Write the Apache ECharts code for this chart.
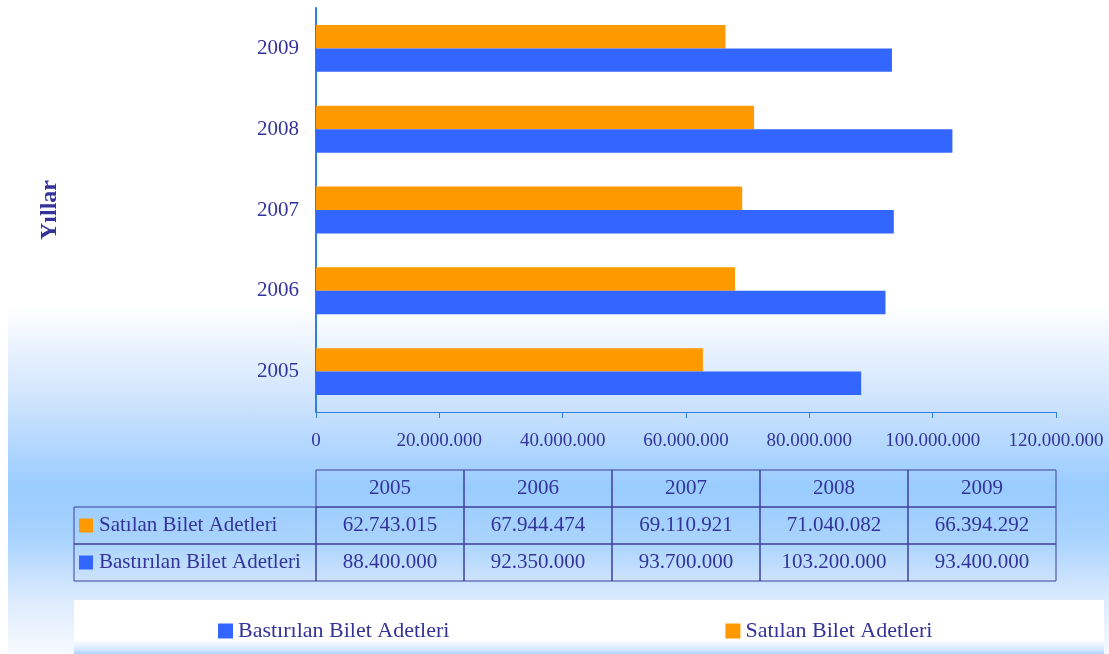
<!DOCTYPE html>
<html>
<head>
<meta charset="utf-8">
<title>Bilet Adetleri</title>
<script src="https://cdn.jsdelivr.net/npm/echarts@6/dist/echarts.min.js"></script>
<style>
  html, body { margin: 0; padding: 0; background: #fff; }
  #wrap { position: relative; width: 1109px; height: 654px; overflow: hidden; }
  #bg {
    position: absolute; left: 8px; top: 0; width: 1101px; height: 654px;
    background: linear-gradient(to bottom, #ffffff 0px, #ffffff 305px, #cfe4fd 400px, #99ccff 487px, #a9d3fd 540px, #dcebfd 600px, #f3f8fe 645px, #f7fafe 654px);
  }
  #legendBox {
    position: absolute; left: 74px; top: 600px; width: 1030px; height: 54px;
    background: linear-gradient(to bottom, #ffffff 0px, #ffffff 40px, #d4e7fd 50px, #a9d3fd 54px);
  }
  #main { position: absolute; left: 0; top: 0; width: 1109px; height: 654px; }
</style>
</head>
<body>
<div id="wrap">
  <div id="bg"></div>
  <div id="legendBox"></div>
  <div id="main"></div>
</div>
<script>
// veriler
var years = ['2005', '2006', '2007', '2008', '2009']
var satilan = [62743015, 67944474, 69110921, 71040082, 66394292]
var basilan = [88400000, 92350000, 93700000, 103200000, 93400000]
var satilanName = 'Satılan Bilet Adetleri'
var basilanName = 'Bastırılan Bilet Adetleri'

var textColor = '#333399'
var lineColor = '#2f7fe0'
var borderColor = '#3f3f9f'
var orange = '#ff9900'
var blue = '#3366ff'
var serif = '"Liberation Serif", "Times New Roman", serif'

function fmt (v) {
  return String(v).replace(/\B(?=(\d{3})+(?!\d))/g, '.')
}

// tablo: grid genisligine gore hucreler
var gridLeft = 316
var gridRight = 53
var gridWidth = 1109 - gridLeft - gridRight
var colW = gridWidth / years.length
var rowTop = [470, 507, 544, 581]

function buildTable () {
  var els = []
  // baslik satiri
  years.forEach(function (y, i) {
    var x = gridLeft + i * colW
    els.push({
      type: 'rect',
      shape: { x: x, y: rowTop[0], width: colW, height: rowTop[1] - rowTop[0] },
      style: { fill: 'transparent', stroke: borderColor, lineWidth: 1 }
    })
    els.push({
      type: 'text',
      x: x + colW / 2,
      y: (rowTop[0] + rowTop[1]) / 2,
      style: { text: y, fill: textColor, font: '21px ' + serif, align: 'center', verticalAlign: 'middle' }
    })
  })
  var rows = [
    { name: satilanName, color: orange, data: satilan },
    { name: basilanName, color: blue, data: basilan }
  ]
  rows.forEach(function (r, k) {
    var top = rowTop[k + 1]
    var h = rowTop[k + 2] - top
    var mid = top + h / 2
    els.push({
      type: 'rect',
      shape: { x: 74, y: top, width: gridLeft - 74, height: h },
      style: { fill: 'transparent', stroke: borderColor, lineWidth: 1 }
    })
    els.push({
      type: 'rect',
      shape: { x: 79, y: mid - 7, width: 14, height: 14 },
      style: { fill: r.color }
    })
    els.push({
      type: 'text',
      x: 99,
      y: mid,
      style: { text: r.name, fill: textColor, font: '21px ' + serif, align: 'left', verticalAlign: 'middle' }
    })
    r.data.forEach(function (v, i) {
      var x = gridLeft + i * colW
      els.push({
        type: 'rect',
        shape: { x: x, y: top, width: colW, height: h },
        style: { fill: 'transparent', stroke: borderColor, lineWidth: 1 }
      })
      els.push({
        type: 'text',
        x: x + colW / 2,
        y: mid,
        style: { text: fmt(v), fill: textColor, font: '21px ' + serif, align: 'center', verticalAlign: 'middle' }
      })
    })
  })
  return els
}

var myChart = echarts.init(document.getElementById('main'))
myChart.setOption({
  backgroundColor: 'transparent',
  animation: false,
  textStyle: { fontFamily: serif, color: textColor },
  legend: {
    data: [basilanName, satilanName],
    left: 213,
    top: 614,
    itemWidth: 15,
    itemHeight: 15,
    itemGap: 276,
    icon: 'rect',
    textStyle: { fontFamily: serif, fontSize: 22, color: textColor, lineHeight: 24 }
  },
  grid: {
    left: gridLeft,
    right: gridRight,
    top: 8,
    bottom: 242,
    containLabel: false
  },
  xAxis: {
    type: 'value',
    min: 0,
    max: 120000000,
    interval: 20000000,
    splitLine: { show: false },
    axisLine: { show: true, lineStyle: { color: lineColor, width: 1 } },
    axisTick: { show: true, length: 6, lineStyle: { color: lineColor } },
    axisLabel: {
      margin: 20,
      fontFamily: serif,
      fontSize: 19,
      color: textColor,
      formatter: function (v) { return fmt(v) }
    }
  },
  yAxis: {
    type: 'category',
    data: years,
    name: 'Yıllar',
    nameLocation: 'middle',
    nameRotate: 90,
    nameGap: 254,
    nameTextStyle: { fontFamily: serif, fontSize: 24, fontWeight: 'bold', color: textColor },
    axisLine: { show: true, lineStyle: { color: lineColor, width: 2 } },
    axisTick: { show: false },
    axisLabel: { margin: 17, fontFamily: serif, fontSize: 21, color: textColor }
  },
  series: [
    {
      name: satilanName,
      type: 'bar',
      data: satilan,
      barGap: 0,
      barCategoryGap: '42%',
      itemStyle: { color: orange }
    },
    {
      name: basilanName,
      type: 'bar',
      data: basilan,
      barGap: 0,
      barCategoryGap: '42%',
      itemStyle: { color: blue }
    }
  ],
  graphic: buildTable()
})
</script>
</body>
</html>
